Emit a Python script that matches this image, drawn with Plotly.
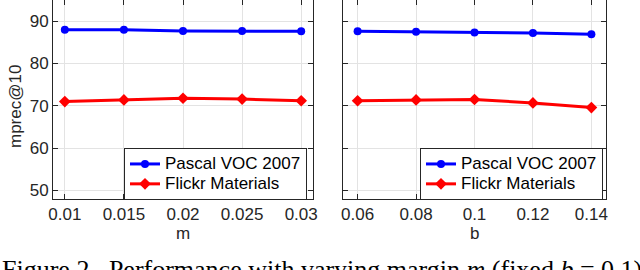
import plotly.graph_objects as go

m_vals = [0.01, 0.015, 0.02, 0.025, 0.03]
m_pascal = [88.0, 88.0, 87.7, 87.7, 87.6]
m_flickr = [71.0, 71.4, 71.8, 71.6, 71.2]

b_vals = [0.06, 0.08, 0.1, 0.12, 0.14]
b_pascal = [87.6, 87.5, 87.3, 87.2, 86.9]
b_flickr = [71.2, 71.4, 71.5, 70.7, 69.6]

m_ticks = ["0.01", "0.015", "0.02", "0.025", "0.03"]
b_ticks = ["0.06", "0.08", "0.1", "0.12", "0.14"]
y_ticks = [50, 60, 70, 80, 90]

series_names = ["Pascal VOC 2007", "Flickr Materials"]
caption = "Figure 2.  Performance with varying margin <i>m</i> (fixed <i>b</i> = 0.1)"

BLUE = "#0000ff"
RED = "#ff0000"
FONT = "Liberation Sans, Arial, sans-serif"
FS = 17

fig = go.Figure()

def add(x, y, name, color, symbol, xa, ya, legend, show):
    fig.add_trace(go.Scatter(
        x=x, y=y, name="<span style='font-size:%dpx'>%s</span>" % (FS, name),
        mode="lines+markers",
        line=dict(color=color, width=3),
        marker=dict(color=color, symbol=symbol, size=8 if symbol == "circle" else 9),
        xaxis=xa, yaxis=ya, legend=legend, showlegend=show))

add(m_vals, m_pascal, series_names[0], BLUE, "circle", "x", "y", "legend", True)
add(m_vals, m_flickr, series_names[1], RED, "diamond", "x", "y", "legend", True)
add(b_vals, b_pascal, series_names[0], BLUE, "circle", "x2", "y2", "legend2", True)
add(b_vals, b_flickr, series_names[1], RED, "diamond", "x2", "y2", "legend2", True)

axis_common = dict(showline=True, mirror="ticks", linecolor="#262626", linewidth=1,
                   ticks="inside", ticklen=5, tickcolor="#262626",
                   showgrid=True, gridcolor="#e3e3e3", gridwidth=1, zeroline=False,
                   tickfont=dict(family=FONT, size=FS, color="#262626"))

W, H = 640, 270
legend_common = dict(xanchor="left", yanchor="top", bgcolor="white",
                     bordercolor="#262626", borderwidth=1,
                     font=dict(family=FONT, size=13, color="black"),
                     tracegroupgap=0, itemwidth=30)
fig.update_layout(
    width=W, height=H, margin=dict(l=0, r=0, t=0, b=0, autoexpand=False),
    paper_bgcolor="white", plot_bgcolor="white",
    font=dict(family=FONT, size=FS, color="#262626"),
    xaxis=dict(domain=[53/W, 313/W], range=[0.009, 0.031], tickvals=m_vals, ticktext=m_ticks,
               anchor="y", **axis_common),
    yaxis=dict(domain=[1-199/H, 1.0], range=[48, 95], tickvals=y_ticks, anchor="x", **axis_common),
    xaxis2=dict(domain=[343/W, 606/W], range=[0.055, 0.145], tickvals=b_vals, ticktext=b_ticks,
                anchor="y2", **axis_common),
    yaxis2=dict(domain=[1-199/H, 1.0], range=[48, 95], tickvals=y_ticks, showticklabels=False,
                anchor="x2", **axis_common),
    legend=dict(x=124/W, y=1-148/H, **legend_common),
    legend2=dict(x=420/W, y=1-148/H, **legend_common),
    showlegend=True,
)

fig.add_annotation(text="m", x=183/W, y=1-233/H, xref="paper", yref="paper", showarrow=False,
                   xanchor="center", yanchor="middle",
                   font=dict(family=FONT, size=FS, color="#262626"))
fig.add_annotation(text="b", x=474/W, y=1-233/H, xref="paper", yref="paper", showarrow=False,
                   xanchor="center", yanchor="middle",
                   font=dict(family=FONT, size=FS, color="#262626"))
fig.add_annotation(text="mprec@10", x=15/W, y=1-107/H, xref="paper", yref="paper", showarrow=False,
                   xanchor="center", yanchor="middle",
                   textangle=-90, font=dict(family=FONT, size=FS, color="#262626"))
fig.add_annotation(text=caption, x=0, y=1-253/H, xref="paper", yref="paper", xanchor="left",
                   yanchor="top", showarrow=False,
                   font=dict(family="Liberation Serif, Times New Roman, serif", size=26, color="black"))

fig.write_html("out.html", config={"displayModeBar": False},
               post_script="document.body.style.margin='0';")
